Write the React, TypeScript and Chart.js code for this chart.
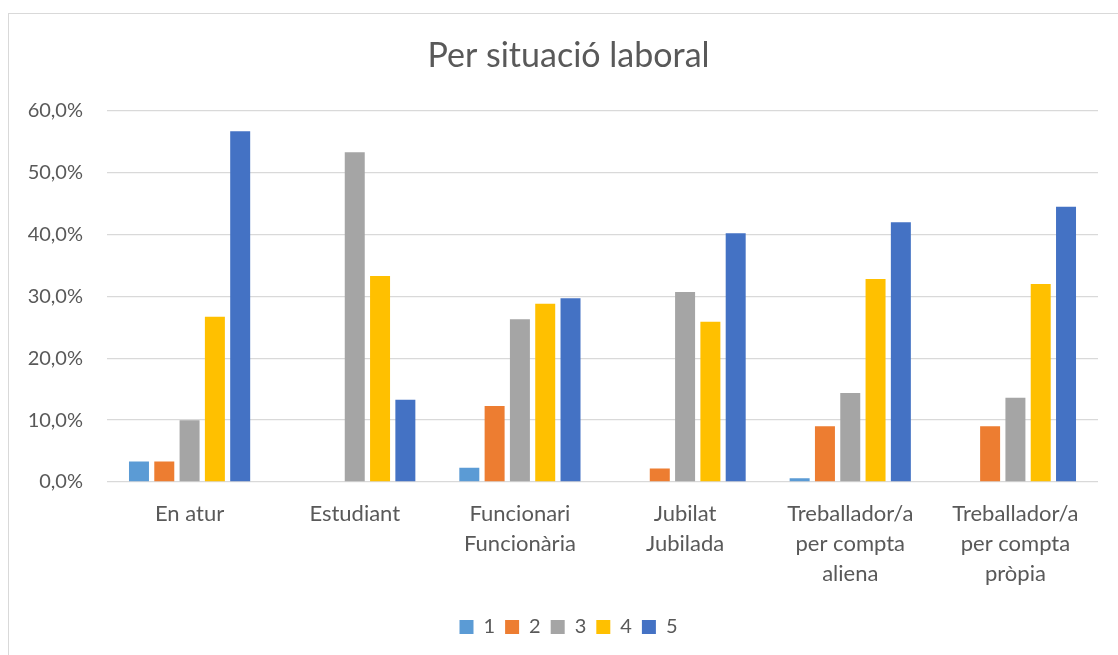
import React, { useEffect, useRef } from "react";
import { Chart, registerables } from "chart.js";

Chart.register(...registerables);

const categories: string[][] = [
  ["En atur"],
  ["Estudiant"],
  ["Funcionari", "Funcionària"],
  ["Jubilat", "Jubilada"],
  ["Treballador/a", "per compta", "aliena"],
  ["Treballador/a", "per compta", "pròpia"],
];

const seriesNames = ["1", "2", "3", "4", "5"];
const series1 = [3.3, 0, 2.3, 0, 0.6, 0];
const series2 = [3.3, 0, 12.3, 2.2, 9.0, 9.0];
const series3 = [10.0, 53.3, 26.3, 30.7, 14.4, 13.6];
const series4 = [26.7, 33.3, 28.8, 25.9, 32.8, 32.0];
const series5 = [56.7, 13.3, 29.7, 40.2, 42.0, 44.5];
const seriesColors = ["#5B9BD5", "#ED7D31", "#A5A5A5", "#FFC000", "#4472C4"];

const titleText = "Per situació laboral";
const yMax = 60;
const yStep = 10;

const FONT = "Lato";
const TEXT = "#595959";

export default function App() {
  const canvasRef = useRef<HTMLCanvasElement | null>(null);

  useEffect(() => {
    document.documentElement.style.overflow = "hidden";
    document.body.style.overflow = "hidden";
    const canvas = canvasRef.current;
    if (!canvas) return;
    const allSeries = [series1, series2, series3, series4, series5];
    const chart = new Chart(canvas, {
      type: "bar",
      data: {
        labels: categories,
        datasets: allSeries.map((d, i) => ({
          label: seriesNames[i],
          data: d,
          backgroundColor: seriesColors[i],
          borderWidth: 0,
          categoryPercentage: 0.766,
          barPercentage: 0.79,
          yAxisID: "y",
        })),
      },
      options: {
        animation: false,
        responsive: false,
        maintainAspectRatio: false,
        layout: { padding: { left: 16, right: 16, top: 0, bottom: 25 } },
        plugins: {
          tooltip: { enabled: false },
          title: {
            display: true,
            text: titleText,
            color: TEXT,
            font: { family: FONT, size: 34, weight: "normal", lineHeight: 1.2 },
            padding: { top: 22, bottom: 34 },
          },
          legend: {
            display: true,
            position: "bottom",
            labels: {
              color: TEXT,
              font: { family: FONT, size: 20 },
              boxWidth: 14,
              boxHeight: 14,
              padding: 10,
            },
          },
        },
        scales: {
          x: {
            grid: { display: false, drawTicks: false },
            border: { display: false },
            ticks: {
              color: TEXT,
              font: { family: FONT, size: 22, lineHeight: "30px" },
              padding: 17,
              maxRotation: 0,
              autoSkip: false,
            },
            afterFit: (scale: any) => {
              scale.height = 125;
            },
          },
          y: {
            min: 0,
            max: yMax,
            grid: { color: "#D9D9D9", lineWidth: 1.3, drawTicks: false },
            border: { display: false },
            ticks: {
              stepSize: yStep,
              color: TEXT,
              font: { family: FONT, size: 20 },
              padding: 24,
              callback: (v: any) => Number(v).toFixed(1).replace(".", ",") + "%",
            },
            afterFit: (scale: any) => {
              scale.width = 82;
            },
          },
          y2: {
            type: "linear",
            position: "right",
            min: 0,
            max: yMax,
            grid: { display: false, drawTicks: false },
            border: { display: false },
            ticks: { display: false },
            afterFit: (scale: any) => {
              scale.width = 14;
            },
          },
        },
      },
    });
    return () => chart.destroy();
  }, []);

  return (
    <div
      style={{
        position: "fixed",
        left: 8,
        top: 13,
        width: 1121,
        height: 660,
        border: "1px solid #D9D9D9",
        boxSizing: "border-box",
        background: "#fff",
      }}
    >
      <canvas
        ref={canvasRef}
        width={1119}
        height={658}
        style={{ display: "block", width: 1119, height: 658 }}
      />
    </div>
  );
}
